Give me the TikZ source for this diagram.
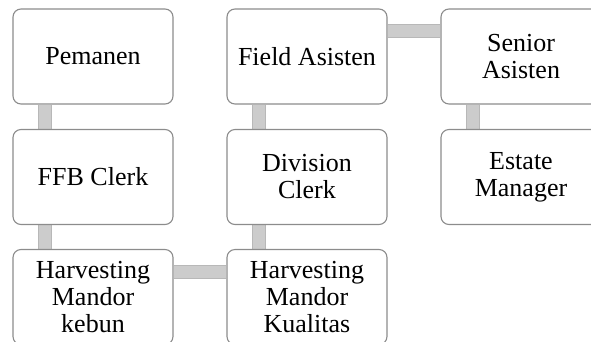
\documentclass[tikz,border=0pt]{standalone}
\usepackage{fontspec}
\setmainfont{Liberation Serif}
\usetikzlibrary{backgrounds}
\tikzset{
  jabatan/.style={draw=black!45, line width=1.1pt, fill=white, rounded corners=8pt,
    minimum width=160pt, minimum height=95pt, align=center, inner sep=2pt,
    font=\fontsize{26}{27}\selectfont},
  garis/.style={draw=black!28, line width=1pt, double=black!20, double distance=12pt}
}
\begin{document}
\begin{tikzpicture}[x=1pt,y=-1pt]
\clip (0,0) rectangle (591,341);

\node[jabatan] (pemanen) at (93,56.5) {Pemanen};
\node[jabatan] (ffb) at (93,177) {FFB Clerk};
\node[jabatan] (hkebun) at (93,297) {Harvesting\\Mandor\\kebun};

\node[jabatan] (field) at (307,56.5) {Field Asisten};
\node[jabatan] (division) at (307,177) {Division\\Clerk};
\node[jabatan] (hkualitas) at (307,297) {Harvesting\\Mandor\\Kualitas};

\node[jabatan] (senior) at (521,56.5) {Senior\\Asisten};
\node[jabatan] (estate) at (521,177) {Estate\\Manager};

\begin{scope}[on background layer]
% vertical
\draw[garis] ([xshift=33pt]pemanen.south west) -- ([xshift=33pt]ffb.north west);
\draw[garis] ([xshift=33pt]ffb.south west) -- ([xshift=33pt]hkebun.north west);
\draw[garis] ([xshift=33pt]field.south west) -- ([xshift=33pt]division.north west);
\draw[garis] ([xshift=33pt]division.south west) -- ([xshift=33pt]hkualitas.north west);
\draw[garis] ([xshift=33pt]senior.south west) -- ([xshift=33pt]estate.north west);
% horizontal
\draw[garis] ([yshift=-23pt]field.north east) -- ([yshift=-23pt]senior.north west);
\draw[garis] ([yshift=-23pt]hkebun.north east) -- ([yshift=-23pt]hkualitas.north west);
\end{scope}
\end{tikzpicture}
\end{document}
